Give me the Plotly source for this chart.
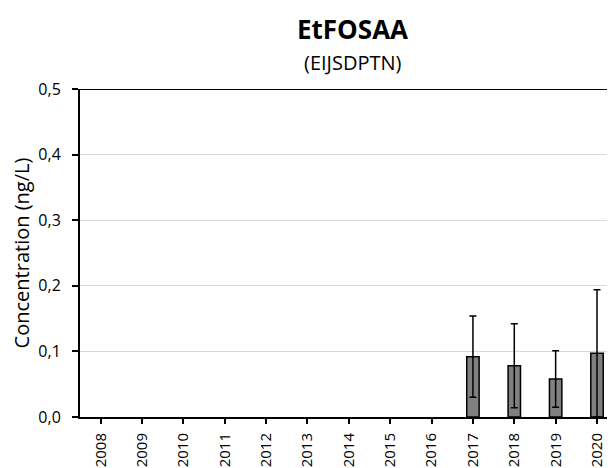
import plotly.graph_objects as go

years = ["2008", "2009", "2010", "2011", "2012", "2013", "2014", "2015", "2016", "2017", "2018", "2019", "2020"]
values = [None, None, None, None, None, None, None, None, None, 0.092, 0.078, 0.058, 0.097]
errors = [None, None, None, None, None, None, None, None, None, 0.062, 0.064, 0.043, 0.097]
y_ticks = [0.0, 0.1, 0.2, 0.3, 0.4, 0.5]

FONT = "Open Sans"

fig = go.Figure()
fig.add_trace(go.Bar(
    x=years, y=values,
    marker=dict(color="#808080", line=dict(color="#000000", width=1.5)),
    width=0.3,
    error_y=dict(type="data", array=errors, symmetric=True, color="#000000", thickness=1.5, width=3.5),
))

fig.add_shape(type="line", xref="paper", yref="y", x0=0, x1=1, y0=0.5, y1=0.5,
              line=dict(color="#000000", width=2))

# page body has an 8px default margin; figure is sized to fill the rest of the window
fig.update_layout(
    width=607, height=460,
    margin=dict(l=72, r=0, t=81, b=51, autoexpand=False),
    paper_bgcolor="white", plot_bgcolor="white",
    separators=", ",
    showlegend=False,
    font=dict(family=FONT, color="#000000"),
    annotations=[
        dict(text="<b>EtFOSAA</b>", xref="paper", yref="paper", x=0.51, y=1, yshift=40,
             xanchor="center", yanchor="bottom", showarrow=False, font=dict(size=26, family=FONT)),
        dict(text="(EIJSDPTN)", xref="paper", yref="paper", x=0.51, y=1, yshift=11,
             xanchor="center", yanchor="bottom", showarrow=False, font=dict(size=20, family=FONT)),
    ],
)
fig.update_xaxes(
    type="category", categoryorder="array", categoryarray=years,
    range=[-0.5, 12.435], automargin=False,
    tickangle=-90, tickfont=dict(size=15, family=FONT),
    ticks="outside", ticklen=5, tickwidth=1.5, tickcolor="#000000",
    showline=True, linecolor="#000000", linewidth=2,
    showgrid=False, ticklabelstandoff=3,
)
fig.update_yaxes(
    range=[0, 0.5], tickvals=y_ticks, tickformat=".1f", automargin=False,
    tickfont=dict(size=16, family=FONT),
    ticks="outside", ticklen=6, tickwidth=1.5, tickcolor="#000000",
    showline=True, linecolor="#000000", linewidth=2,
    showgrid=True, gridcolor="#d9d9d9", gridwidth=1,
    zeroline=False, ticklabelstandoff=8,
    title=dict(text="Concentration (ng/L)", font=dict(size=20, family=FONT), standoff=12),
)

fig.write_html("out.html")
